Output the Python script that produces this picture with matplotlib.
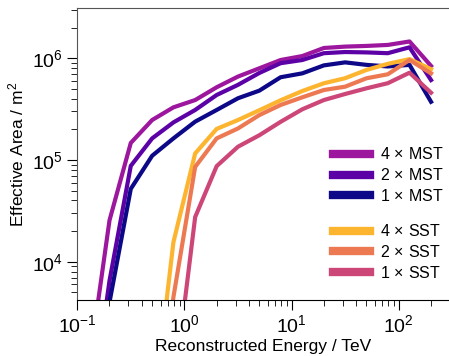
import numpy as np
import matplotlib
matplotlib.use("Agg")
from matplotlib import pyplot as plt

plt.rcParams['font.family'] = ['Liberation Sans', 'DejaVu Sans']
plt.rcParams['mathtext.fontset'] = 'custom'
plt.rcParams['mathtext.rm'] = 'Liberation Sans'
plt.rcParams['mathtext.it'] = 'Liberation Sans:italic'
plt.rcParams['font.size'] = 12

# bin centres in TeV (5 bins per decade)
energy = [0.126, 0.2, 0.316, 0.5, 0.79, 1.26, 2.0, 3.16, 5.0, 7.9,
          12.6, 20.0, 31.6, 50.0, 79.0, 126.0, 200.0]

mst_4 = [800, 2.55e4, 1.47e5, 2.47e5, 3.29e5, 3.88e5, 5.18e5, 6.6e5, 7.96e5,
         9.6e5, 1.05e6, 1.26e6, 1.30e6, 1.32e6, 1.35e6, 1.46e6, 8.4e5]
mst_2 = [200, 6.5e3, 8.75e4, 1.63e5, 2.34e5, 3.1e5, 4.35e5, 5.47e5, 7.16e5,
         8.93e5, 9.6e5, 1.12e6, 1.15e6, 1.14e6, 1.12e6, 1.28e6, 6.1e5]
mst_1 = [100, 4.0e3, 5.2e4, 1.10e5, 1.63e5, 2.38e5, 3.1e5, 4.04e5, 4.8e5,
         6.5e5, 7.1e5, 8.5e5, 9.1e5, 8.6e5, 8.3e5, 8.6e5, 3.73e5]
sst_4 = [np.nan, np.nan, np.nan, 260, 1.56e4, 1.16e5, 2.02e5, 2.47e5, 3.08e5,
         3.86e5, 4.76e5, 5.67e5, 6.36e5, 7.67e5, 8.8e5, 9.8e5, 7.8e5]
sst_2 = [np.nan, np.nan, np.nan, 100, 4.5e3, 8.55e4, 1.63e5, 2.04e5, 2.76e5,
         3.47e5, 4.13e5, 4.87e5, 5.25e5, 6.35e5, 6.95e5, 9.6e5, 7.1e5]
sst_1 = [np.nan, np.nan, np.nan, np.nan, 500, 2.75e4, 8.7e4, 1.35e5, 1.75e5,
         2.37e5, 3.15e5, 3.88e5, 4.45e5, 5.06e5, 5.68e5, 7.2e5, 4.58e5]

mst_labels = ['4$\\,\\times\\,$MST', '2$\\,\\times\\,$MST', '1$\\,\\times\\,$MST']
sst_labels = ['4$\\,\\times\\,$SST', '2$\\,\\times\\,$SST', '1$\\,\\times\\,$SST']
mst_colors = ['#9c179e', '#5c01a6', '#0d0887']
sst_colors = ['#fdb42f', '#ed7953', '#cc4778']


def main():
    fig = plt.figure(figsize=(4.49, 3.56), dpi=100)
    ax = fig.add_axes([0.172, 0.157, 0.83, 0.82])

    mst_lines = []
    for vals, lab, col in zip([mst_4, mst_2, mst_1], mst_labels, mst_colors):
        l, = ax.plot(energy, vals, color=col, lw=3, label=lab)
        mst_lines.append(l)
    sst_lines = []
    for vals, lab, col in zip([sst_4, sst_2, sst_1], sst_labels, sst_colors):
        l, = ax.plot(energy, vals, color=col, lw=3, label=lab)
        sst_lines.append(l)

    ax.set_xscale('log')
    ax.set_yscale('log')
    ax.set_xlim(0.1, 300)
    ax.set_ylim(4.2e3, 3.1e6)
    ax.set_xlabel('Reconstructed Energy / TeV', fontsize=12.5, labelpad=2)
    ax.set_ylabel('Effective Area / m$^2$', fontsize=12.5, labelpad=4)

    ax.spines['right'].set_visible(False)
    for s in ['top', 'left']:
        ax.spines[s].set_color('#555555')
    ax.tick_params(which='major', length=7, direction='out', labelsize=14)
    ax.tick_params(which='minor', length=4, direction='out')

    leg_kw = dict(frameon=False, loc='upper left', fontsize=11.5,
                  handlelength=2.3, handletextpad=0.65, labelspacing=0.3,
                  borderpad=0, borderaxespad=0)
    leg1 = fig.legend(handles=mst_lines, bbox_to_anchor=(0.742, 0.589), **leg_kw)
    leg2 = fig.legend(handles=sst_lines, bbox_to_anchor=(0.742, 0.373), **leg_kw)
    for leg in (leg1, leg2):
        for h in leg.legend_handles:
            h.set_linewidth(6)

    fig.savefig('out.png', dpi=100)


if __name__ == "__main__":
    main()
